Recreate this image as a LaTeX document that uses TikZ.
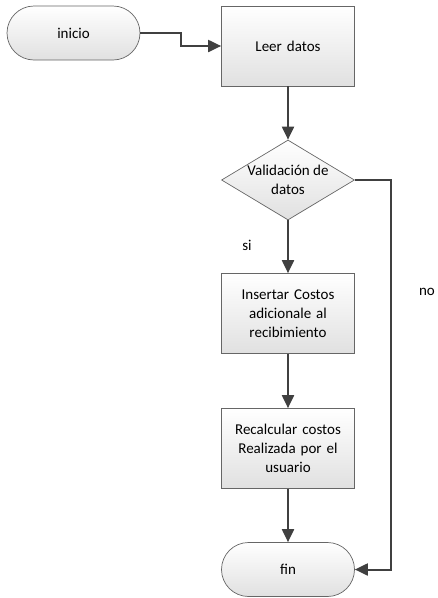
\documentclass[tikz,border=0pt]{standalone}
\usepackage{fontspec}
\setmainfont{Carlito}
\usetikzlibrary{shapes.geometric, arrows.meta}

\begin{document}
\begin{tikzpicture}[x=1pt, y=-1pt,
        font=\fontsize{15}{19}\selectfont,
        >={Triangle[length=13pt, width=12pt]},
        flecha/.style={->, draw=black!75, line width=2pt},
        proceso/.style={rectangle, draw=black!60, line width=0.7pt, top color=white, bottom color=black!12,
            minimum width=133pt, minimum height=80pt, text width=125pt, align=center},
        terminal/.style={rectangle, rounded corners=27pt, draw=black!60, line width=0.7pt, top color=white,
            bottom color=black!12, minimum width=133pt, minimum height=54pt},
        decision/.style={diamond, draw=black!60, line width=0.7pt, top color=white, bottom color=black!12,
            minimum width=133pt, minimum height=80pt, inner sep=0pt}]
    \useasboundingbox (0,0) rectangle (438,598);

    \node[terminal] (inicio) at (73.5, 33) {inicio};
    \node[proceso] (leer) at (288, 46) {Leer datos};
    \node[decision, label={[align=center]center:Validación de\\datos}] (valid) at (288, 180) {};
    \node[proceso] (insertar) at (288, 313.5) {Insertar Costos\\adicionale al\\recibimiento};
    \node[proceso] (recalc) at (288, 448.5) {Recalcular costos\\Realizada por el\\usuario};
    \node[terminal] (fin) at (288, 569.5) {fin};

    \node (si) at (247, 245) {si};
    \node (no) at (427, 292) {no};

    \draw[flecha] (inicio.east) -- ++(41,0) |- (leer.west);
    \draw[flecha] (leer) -- (valid);
    \draw[flecha] (valid) -- (insertar);
    \draw[flecha] (insertar) -- (recalc);
    \draw[flecha] (recalc) -- (fin);
    \draw[flecha] (valid.east) -- ++(36,0) |- (fin.east);
\end{tikzpicture}
\end{document}
